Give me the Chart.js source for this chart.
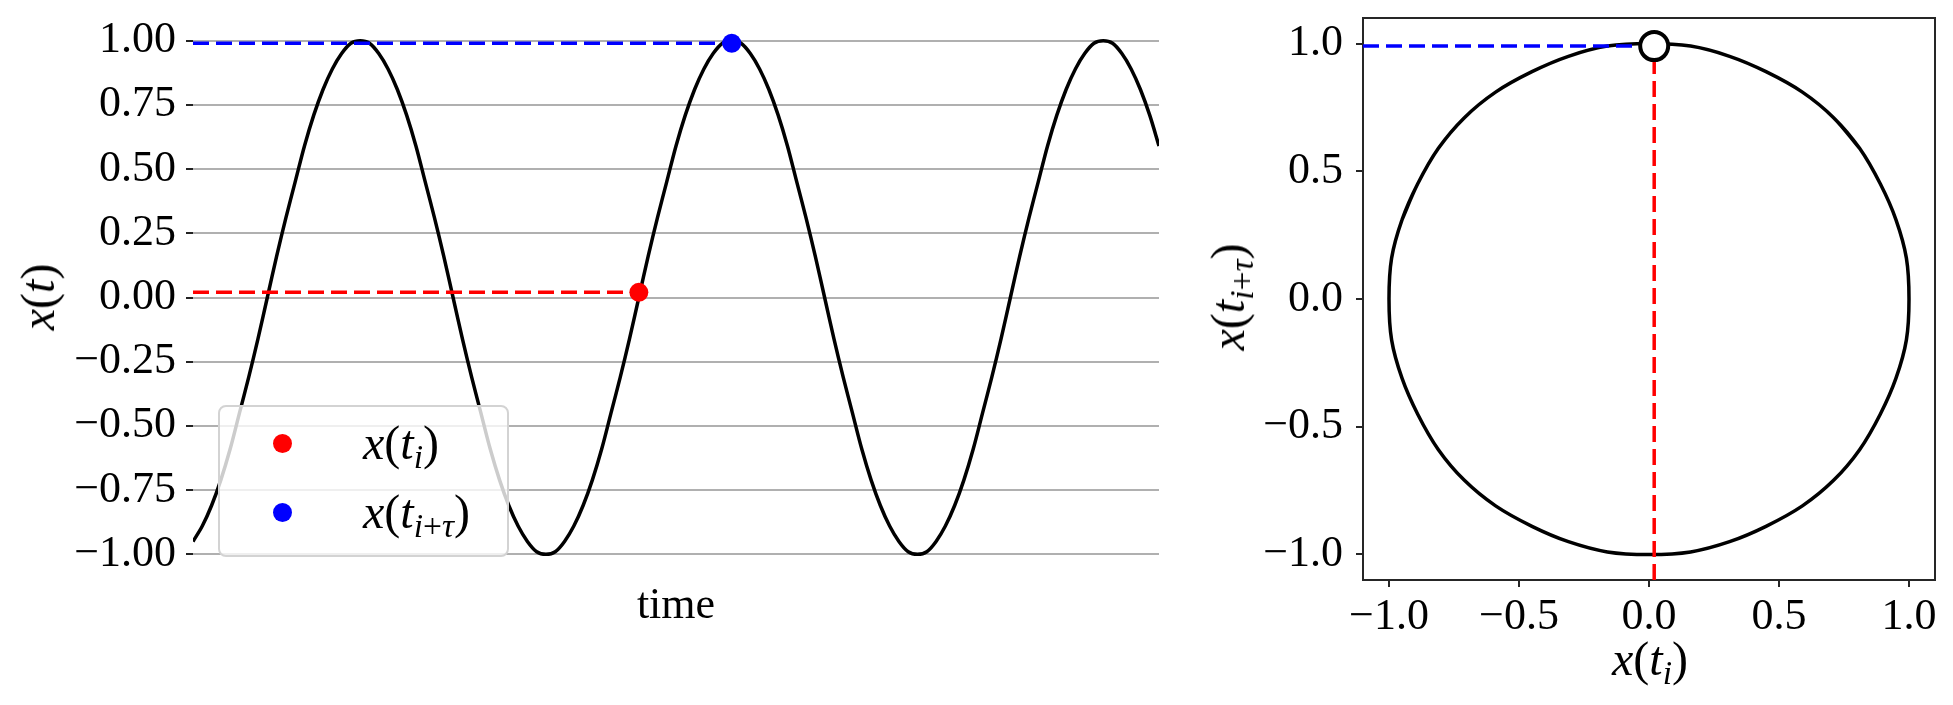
<!DOCTYPE html>
<html>
<head>
<meta charset="utf-8">
<title>x(t) and its delay embedding</title>
<script src="https://cdn.jsdelivr.net/npm/chart.js@4.4.1/dist/chart.umd.min.js"></script>
<style>
  body { margin: 0; background: #fff; width: 1953px; height: 705px; overflow: hidden; position: relative;
         font-family: 'Liberation Serif', 'Times New Roman', serif; }
  canvas { position: absolute; top: 0; }
  #left { left: 0; }
  #right { left: 1190px; }
  .math { position: absolute; font-size: 48px; line-height: 1; color: #000; white-space: nowrap; }
  .math i { font-style: italic; }
  .math sub { font-size: 0.7em; vertical-align: -0.27em; line-height: 0; }
  .rot { transform: translate(-50%, -50%) rotate(-90deg); }
  .legend { position: absolute; left: 218px; top: 405px; width: 291px; height: 152px; box-sizing: border-box;
            border: 2px solid #d3d3d3; border-radius: 8px; background: rgba(255, 255, 255, 0.8); }
  .legend .dot { position: absolute; left: 52.5px; width: 19px; height: 19px; border-radius: 50%; }
  .legend .math { left: 143px; }
</style>
</head>
<body>
<canvas id="left" width="1180" height="705"></canvas>
<canvas id="right" width="763" height="705"></canvas>

<div class="math rot" style="left: 38px; top: 297px;"><i>x</i>(<i>t</i>)</div>

<div class="legend">
  <div class="dot" style="top: 26.5px; background: #ff0000;"></div>
  <div class="math" style="top: 12px;"><i>x</i>(<i>t</i><sub><i>i</i></sub>)</div>
  <div class="dot" style="top: 95.5px; background: #0000ff;"></div>
  <div class="math" style="top: 81px;"><i>x</i>(<i>t</i><sub><i>i</i>+<i>τ</i></sub>)</div>
</div>

<div class="math" style="left: 1650px; top: 635px; transform: translateX(-50%);"><i>x</i>(<i>t</i><sub><i>i</i></sub>)</div>
<div class="math rot" style="left: 1228px; top: 297px;"><i>x</i>(<i>t</i><sub><i>i</i>+<i>τ</i></sub>)</div>

<script>
// 取樣時間 (time, arbitrary units)
const times = [0, 0.25, 0.5, 0.75, 1, 1.25, 1.5, 1.75, 2, 2.25,
               2.5, 2.75, 3, 3.25, 3.5, 3.75, 4, 4.25, 4.5, 4.75,
               5, 5.25, 5.5, 5.75, 6, 6.25, 6.5, 6.75, 7, 7.25,
               7.5, 7.75, 8, 8.25, 8.5, 8.75, 9, 9.25, 9.5, 9.75,
               10, 10.25, 10.5, 10.75, 11, 11.25, 11.5, 11.75, 12, 12.25,
               12.5, 12.75, 13, 13.25, 13.5, 13.75, 14, 14.25, 14.5, 14.75,
               15, 15.25, 15.5, 15.75, 16, 16.25, 16.5, 16.75, 17, 17.25,
               17.5, 17.75, 18, 18.25, 18.5, 18.75, 19, 19.25, 19.5, 19.75,
               20, 20.25, 20.5, 20.75, 21, 21.25, 21.5, 21.75, 22, 22.25,
               22.5, 22.75, 23, 23.25, 23.5, 23.75, 24, 24.25, 24.5, 24.75,
               25, 25.25, 25.5, 25.75, 26];

// x(t)
const signal = [-0.95, -0.89, -0.81, -0.71, -0.59, -0.45, -0.31, -0.16, 0.00, 0.16,
                0.31, 0.45, 0.59, 0.71, 0.81, 0.89, 0.95, 0.99, 1.00, 0.99,
                0.95, 0.89, 0.81, 0.71, 0.59, 0.45, 0.31, 0.16, 0.00, -0.16,
                -0.31, -0.45, -0.59, -0.71, -0.81, -0.89, -0.95, -0.99, -1.00, -0.99,
                -0.95, -0.89, -0.81, -0.71, -0.59, -0.45, -0.31, -0.16, 0.00, 0.16,
                0.31, 0.45, 0.59, 0.71, 0.81, 0.89, 0.95, 0.99, 1.00, 0.99,
                0.95, 0.89, 0.81, 0.71, 0.59, 0.45, 0.31, 0.16, 0.00, -0.16,
                -0.31, -0.45, -0.59, -0.71, -0.81, -0.89, -0.95, -0.99, -1.00, -0.99,
                -0.95, -0.89, -0.81, -0.71, -0.59, -0.45, -0.31, -0.16, 0.00, 0.16,
                0.31, 0.45, 0.59, 0.71, 0.81, 0.89, 0.95, 0.99, 1.00, 0.99,
                0.95, 0.89, 0.81, 0.71, 0.59];

// 標記點
const tI = 12;          // t_i
const tITau = 14.5;     // t_{i+tau}
const xAtTi = 0.02;     // x(t_i)
const xAtTiTau = 0.99;  // x(t_{i+tau})
const lagSteps = 10;    // tau in samples

// 刻度
const leftYTicks = [1, 0.75, 0.5, 0.25, 0, -0.25, -0.5, -0.75, -1];
const embedTicks = [-1, -0.5, 0, 0.5, 1];
const axisMin = -1.1;
const axisMax = 1.1;

const serif = "'Liberation Serif', 'Times New Roman', serif";
const tickFont = { family: serif, size: 44, lineHeight: 1.2 };
const frameColor = '#262626';
const dash = [16, 7];

function fmt(v, d) {
    return Number(v).toFixed(d).replace('-', '\u2212');
}

// force the size of an axis box so the plot area lands where it should
function fixBox(w, h) {
    return function (scale) {
        if (w !== null) scale.width = w;
        if (h !== null) scale.height = h;
        scale.paddingLeft = scale.paddingRight = scale.paddingTop = scale.paddingBottom = 0;
    };
}

const base = {
    responsive: false,
    animation: false,
    events: [],
    plugins: { legend: { display: false }, tooltip: { enabled: false } }
};

// 左圖: x(t)
const series = times.map((t, i) => ({ x: t, y: signal[i] }));

new Chart(document.getElementById('left'), {
    type: 'scatter',
    data: {
        datasets: [
            { data: [{ x: tI, y: xAtTi }], pointRadius: 9.5, pointBackgroundColor: '#ff0000', pointBorderWidth: 0, order: 0 },
            { data: [{ x: tITau, y: xAtTiTau }], pointRadius: 9.5, pointBackgroundColor: '#0000ff', pointBorderWidth: 0, order: 0 },
            { data: [{ x: times[0], y: xAtTi }, { x: tI, y: xAtTi }], showLine: true, borderColor: '#ff0000',
              borderWidth: 3.5, borderDash: dash, pointRadius: 0, order: 1 },
            { data: [{ x: times[0], y: xAtTiTau }, { x: tITau, y: xAtTiTau }], showLine: true, borderColor: '#0000ff',
              borderWidth: 3.5, borderDash: dash, pointRadius: 0, order: 1 },
            { data: series, showLine: true, borderColor: '#000', borderWidth: 3.5, pointRadius: 0, tension: 0.333, order: 2 }
        ]
    },
    options: {
        ...base,
        layout: { padding: { top: 15, right: 21, left: 0, bottom: 0 } },
        scales: {
            x: {
                type: 'linear', min: times[0], max: times[times.length - 1],
                ticks: { display: false },
                grid: { display: false },
                border: { display: false },
                title: { display: true, text: 'time', color: '#000', font: tickFont, padding: { top: 0, bottom: 72 } },
                afterFit: fixBox(null, 125)
            },
            y: {
                min: axisMin, max: axisMax,
                afterBuildTicks: ax => { ax.ticks = leftYTicks.map(v => ({ value: v })); },
                ticks: { color: '#000', font: tickFont, padding: 10, autoSkip: false, callback: v => fmt(v, 2) },
                grid: { color: '#b0b0b0', lineWidth: 2, tickColor: '#222', tickWidth: 2, tickLength: 7 },
                border: { display: false },
                afterFit: fixBox(193, null)
            }
        }
    }
});

// 右圖: delay embedding (x(t_i), x(t_{i+tau}))
const embedded = signal.slice(0, signal.length - lagSteps).map((v, k) => ({ x: v, y: signal[k + lagSteps] }));

const frameAxis = pos => ({
    position: pos, min: axisMin, max: axisMax,
    ticks: { display: false },
    grid: { display: false },
    border: { display: true, color: frameColor, width: 2 },
    afterFit: pos === 'top' ? fixBox(null, 0) : fixBox(0, null)
});

const tickAxis = (pad, fit) => ({
    min: axisMin, max: axisMax,
    afterBuildTicks: ax => { ax.ticks = embedTicks.map(v => ({ value: v })); },
    ticks: { color: '#000', font: tickFont, padding: pad, autoSkip: false, maxRotation: 0, callback: v => fmt(v, 1) },
    grid: { drawOnChartArea: false, color: frameColor, lineWidth: 2, tickColor: frameColor, tickWidth: 2, tickLength: 7 },
    border: { display: true, color: frameColor, width: 2 },
    afterFit: fit
});

new Chart(document.getElementById('right'), {
    type: 'scatter',
    data: {
        datasets: [
            { data: [{ x: xAtTi, y: xAtTiTau }], pointRadius: 14, pointBackgroundColor: '#fff',
              pointBorderColor: '#000', pointBorderWidth: 4, order: 0 },
            { data: [{ x: xAtTi, y: axisMin }, { x: xAtTi, y: xAtTiTau }], showLine: true, borderColor: '#ff0000',
              borderWidth: 3.5, borderDash: dash, pointRadius: 0, order: 1 },
            { data: [{ x: axisMin, y: xAtTiTau }, { x: xAtTi, y: xAtTiTau }], showLine: true, borderColor: '#0000ff',
              borderWidth: 3.5, borderDash: dash, pointRadius: 0, order: 1 },
            { data: embedded, showLine: true, borderColor: '#000', borderWidth: 3.5, pointRadius: 0, tension: 0.333, order: 2 }
        ]
    },
    options: {
        ...base,
        layout: { padding: { top: 15, right: 15, left: 0, bottom: 0 } },
        scales: {
            x: tickAxis(4, fixBox(null, 125)),
            y: tickAxis(13, fixBox(173, null)),
            x2: frameAxis('top'),
            y2: frameAxis('right')
        }
    }
});
</script>
</body>
</html>
